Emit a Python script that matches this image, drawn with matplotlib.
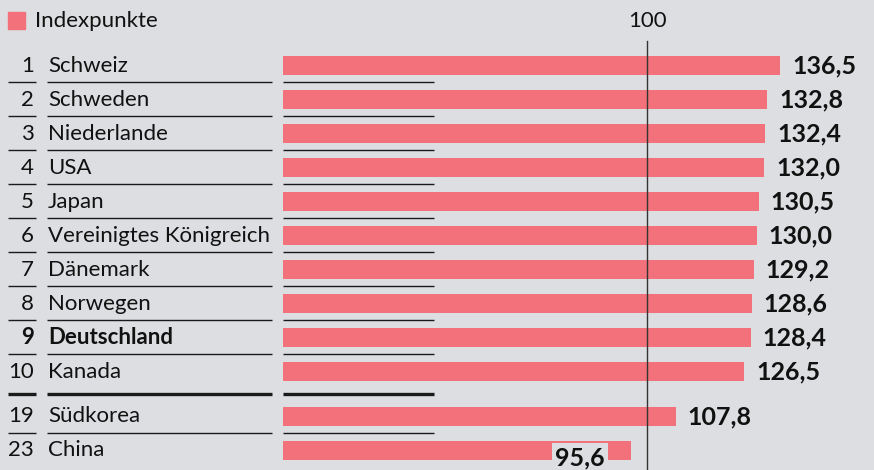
import matplotlib.pyplot as plt
from matplotlib.patches import Rectangle

plt.rcParams['font.family'] = ['Lato', 'DejaVu Sans']

ranks = [1, 2, 3, 4, 5, 6, 7, 8, 9, 10, 19, 23]
countries = ["Schweiz", "Schweden", "Niederlande", "USA", "Japan",
             "Vereinigtes Königreich", "Dänemark", "Norwegen", "Deutschland",
             "Kanada", "Südkorea", "China"]
values = [136.5, 132.8, 132.4, 132.0, 130.5, 130.0, 129.2, 128.6, 128.4,
          126.5, 107.8, 95.6]
legend_label = "Indexpunkte"
reference = 100

bg = "#dcdee1"
bar_color = "#f2717a"
ink = "#111111"

# layout in pixels
W, H = 874, 470
x0 = 283          # pixel where value 0 sits
k = 3.644         # pixels per index point
row_h = 34
top = 65.5
gap = 11


def px(p):
    return (p - x0) / k


fig = plt.figure(figsize=(W / 100, H / 100), dpi=100)
fig.patch.set_facecolor(bg)
ax = fig.add_axes([0, 0, 1, 1])
ax.set_facecolor(bg)
ax.set_xlim(px(0), px(W))
ax.set_ylim(H, 0)
ax.axis("off")

ys = []
for i in range(len(ranks)):
    y = top + i * row_h
    if i >= 10:
        y += gap
    ys.append(y)

ax.barh(ys, values, height=19, left=0, color=bar_color, zorder=2)

# reference line
ax.plot([reference, reference], [41, H], color="#333333", lw=1.0, zorder=3)
ax.text(reference, 21, str(reference), ha="center", va="center",
        fontsize=16, color=ink)

# legend
ax.add_patch(Rectangle((px(8), 12), 17 / k, 17, color=bar_color, clip_on=False))
ax.text(px(35), 21, legend_label, ha="left", va="center", fontsize=16, color=ink)

for i, (r, c, v, y) in enumerate(zip(ranks, countries, values, ys)):
    weight = "bold" if c == "Deutschland" else "normal"
    ax.text(px(34), y, str(r), ha="right", va="center", fontsize=16,
            color=ink, fontweight=weight)
    ax.text(px(48), y, c, ha="left", va="center", fontsize=16,
            color=ink, fontweight=weight)
    lab = f"{v:.1f}".replace(".", ",")
    if v < reference:
        ax.text(px(580), H - 1, lab, ha="center", va="bottom", fontsize=18,
                fontweight="bold", color=ink, zorder=4,
                bbox=dict(facecolor=bg, edgecolor="none", pad=2))
    else:
        ax.text(v + 12 / k, y, lab, ha="left", va="center", fontsize=18,
                fontweight="bold", color=ink, zorder=4)

    # separators under each row
    if i == len(ranks) - 1:
        continue
    ly = y + 16.5
    lw = 2.4 if i == 9 else 1.0
    if i == 9:
        ly = 394
    for a, b in [(8, 36), (47, 272), (283, 434)]:
        ax.plot([px(a), px(b)], [ly, ly], color="#1a1a1a", lw=lw,
                solid_capstyle="butt", zorder=1)

fig.savefig("out.png", dpi=100, facecolor=bg)
